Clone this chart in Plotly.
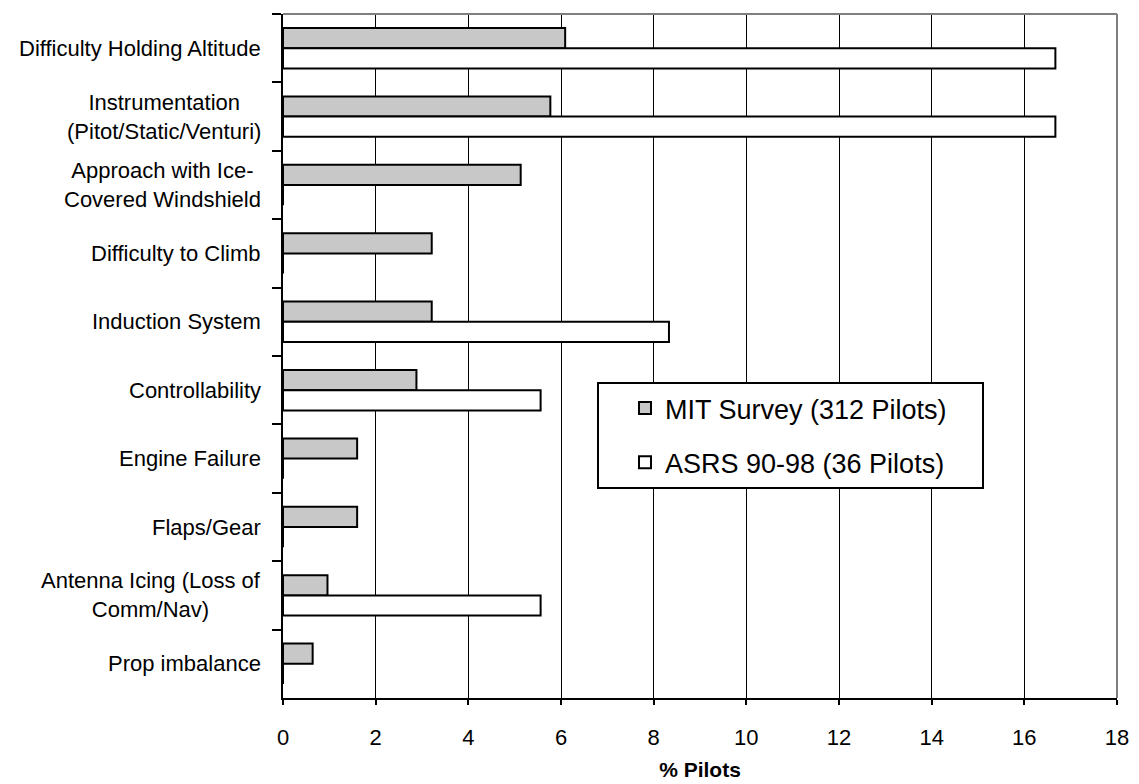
import plotly.graph_objects as go

# Icing-related problems reported by pilots, listed top to bottom
categories = [
    "Difficulty Holding Altitude",
    "Instrumentation<br>(Pitot/Static/Venturi)",
    "Approach with Ice-<br>Covered Windshield",
    "Difficulty to Climb",
    "Induction System",
    "Controllability",
    "Engine Failure",
    "Flaps/Gear",
    "Antenna Icing (Loss of<br>Comm/Nav)",
    "Prop imbalance",
]

# Percent of pilots reporting each problem
mit_survey = [6.09, 5.77, 5.13, 3.21, 3.21, 2.88, 1.60, 1.60, 0.96, 0.64]
asrs_90_98 = [16.67, 16.67, 0, 0, 8.33, 5.56, 0, 0, 5.56, 0]

series_names = ["MIT Survey (312 Pilots)", "ASRS 90-98 (36 Pilots)"]

x_ticks = list(range(0, 19, 2))

FONT = "Liberation Sans, Arial, sans-serif"
PAD = "\u00a0" * 4  # widens the legend box on the right

fig = go.Figure()
fig.add_trace(go.Bar(
    y=categories, x=mit_survey, orientation="h", name=series_names[0] + PAD,
    marker=dict(color="#C8C8C8", line=dict(color="black", width=2)),
    legendgroup="a",
))
fig.add_trace(go.Bar(
    y=categories, x=asrs_90_98, orientation="h", name=series_names[1],
    marker=dict(color="white", line=dict(color="black", width=2)),
    legendgroup="b",
))

# Category labels, centred line by line, to the left of the axis
for cat in categories:
    fig.add_annotation(
        xref="paper", x=0, yref="y", y=cat,
        xanchor="right", xshift=-20, align="center",
        text=cat, showarrow=False,
        font=dict(family=FONT, size=22, color="black"),
    )

# Grey frame on the top and right sides of the plot area
fig.add_shape(type="line", xref="paper", yref="paper", x0=0, x1=1, y0=1, y1=1,
              line=dict(color="#808080", width=2))
fig.add_shape(type="line", xref="paper", yref="paper", x0=1, x1=1, y0=0, y1=1,
              line=dict(color="#808080", width=2))

fig.update_layout(
    width=1139, height=784,
    margin=dict(l=283, r=22, t=14, b=86, autoexpand=False),
    paper_bgcolor="white", plot_bgcolor="white",
    barmode="group", bargap=0.41, bargroupgap=0,
    font=dict(family=FONT, color="black"),
    showlegend=True,
    legend=dict(
        x=0.3765, y=0.462, xanchor="left", yanchor="top",
        bgcolor="white", bordercolor="black", borderwidth=2,
        font=dict(family=FONT, size=27, color="black"),
        traceorder="grouped", tracegroupgap=16,
        indentation=26,
    ),
    xaxis=dict(
        range=[0, 18], tickvals=x_ticks, ticktext=[str(v) for v in x_ticks],
        automargin=False,
        showgrid=True, gridcolor="black", gridwidth=1,
        showline=True, linecolor="black", linewidth=2,
        ticks="outside", ticklen=5, tickcolor="black", tickwidth=2,
        ticklabelstandoff=14,
        tickfont=dict(family=FONT, size=22, color="black"),
        zeroline=False,
        title=dict(text="<b>% Pilots</b>", font=dict(family=FONT, size=21, color="black"),
                   standoff=13),
    ),
    yaxis=dict(
        categoryorder="array", categoryarray=categories,
        autorange="reversed",
        automargin=False,
        showticklabels=False,
        showgrid=False, zeroline=False,
        showline=True, linecolor="black", linewidth=2,
        ticks="outside", ticklen=9, tickcolor="black", tickwidth=2,
        tickson="boundaries",
    ),
)

fig.write_html("out.html")
